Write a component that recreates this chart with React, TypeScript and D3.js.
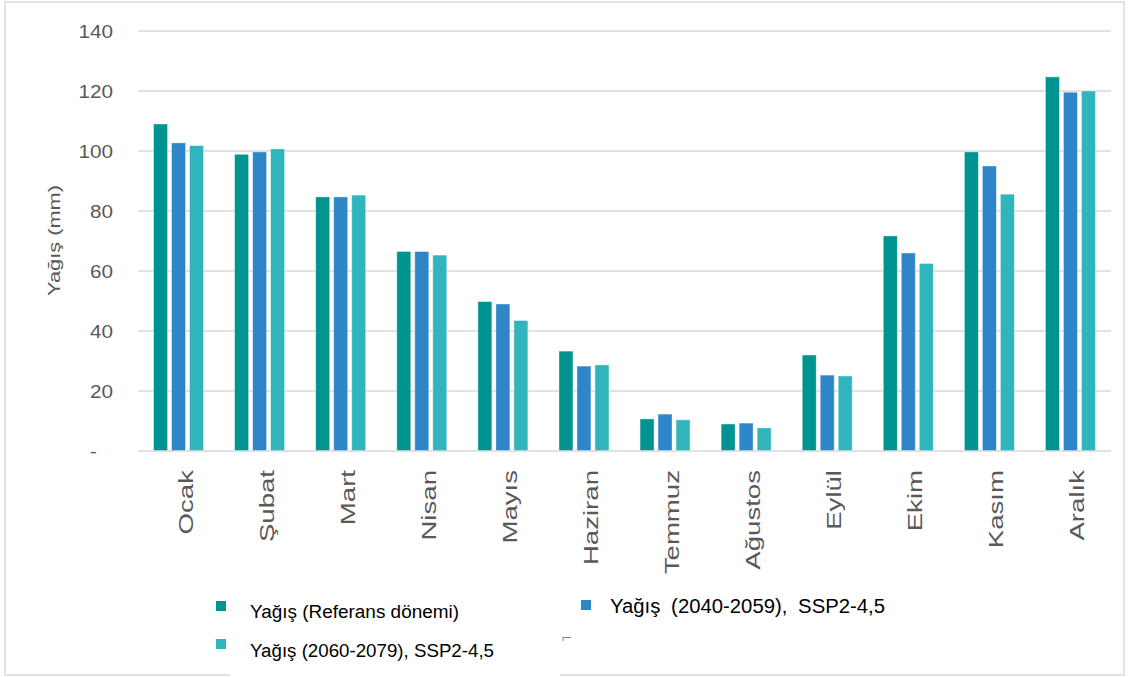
import React from "react";
import * as d3 from "d3";

const months = ["Ocak", "Şubat", "Mart", "Nisan", "Mayıs", "Haziran", "Temmuz", "Ağustos", "Eylül", "Ekim", "Kasım", "Aralık"];
const refValues = [109, 98.9, 84.7, 66.5, 49.8, 33.3, 10.7, 9, 32, 71.7, 99.7, 124.7];
const ssp2040Values = [102.7, 99.7, 84.7, 66.5, 49, 28.3, 12.3, 9.3, 25.3, 66, 95, 119.6];
const ssp2060Values = [101.8, 100.7, 85.3, 65.3, 43.5, 28.7, 10.4, 7.7, 25, 62.5, 85.6, 120];
const yTicks = [0, 20, 40, 60, 80, 100, 120, 140];
const seriesNames = ["Yağış (Referans dönemi)", "Yağış (2040-2059), SSP2-4,5", "Yağış (2060-2079), SSP2-4,5"];
const colors = ["#009490", "#2E86C8", "#31B5BC"];

export default function App() {
  const W = 1128, H = 677;
  const left = 138, right = 1111, top = 31, bottom = 451;
  const x = d3.scaleBand<string>().domain(months).range([left, right]);
  const y = d3.scaleLinear().domain([0, 140]).range([bottom, top]);
  const series = [refValues, ssp2040Values, ssp2060Values];
  const barW = 14, gap = 4;
  const font = "'Liberation Sans', Arial, sans-serif";
  return (
    <svg width={W} height={H} style={{ position: "absolute", left: 0, top: 0, background: "#fff" }} fontFamily={font}>
      <rect x={5} y={2} width={1119} height={673} fill="#fff" stroke="#d9d9d9" strokeWidth={1.5} />
      {yTicks.filter(t => t > 0).map(t => (
        <line key={t} x1={left} x2={right} y1={y(t)} y2={y(t)} stroke="#d9d9d9" strokeWidth={1.5} />
      ))}
      {yTicks.map(t => (
        <text key={"l" + t} transform={`translate(${t === 0 ? 97 : 113},${y(t) + 7}) scale(1.15,1)`} textAnchor="end" fontSize={18} fill="#595959">
          {t === 0 ? "-" : t}
        </text>
      ))}
      <text transform={`translate(60,240.5) rotate(-90)`} textAnchor="middle" fontSize={17} fill="#595959" textLength={111} lengthAdjust="spacingAndGlyphs">Yağış (mm)</text>
      {months.map((m, i) => {
        const c = (x(m) as number) + x.bandwidth() / 2;
        return (
          <g key={m}>
            {series.map((s, k) => {
              const bx = c - barW * 1.5 - gap + k * (barW + gap);
              return (
                <rect key={k} x={bx} y={y(s[i])} width={barW} height={bottom - y(s[i])} fill={colors[k]} stroke="#ffffff" strokeOpacity={0.5} strokeWidth={0.8} />
              );
            })}
            <text transform={`translate(${c + 14},470) rotate(-90) scale(1.38,1)`} textAnchor="end" fontSize={20} fill="#595959">{m}</text>
          </g>
        );
      })}
      <line x1={left} x2={right} y1={bottom} y2={bottom} stroke="#d9d9d9" strokeWidth={1.5} />
      <rect x={230} y={580} width={330} height={97} fill="#fff" />
      <rect x={216} y={601} width={10} height={10} fill={colors[0]} />
      <text x={250} y={618} fontSize={18} fill="#000" textLength={209} lengthAdjust="spacingAndGlyphs">{seriesNames[0]}</text>
      <rect x={216} y={639} width={10} height={10} fill={colors[2]} />
      <text x={250} y={657} fontSize={18} fill="#000" textLength={244} lengthAdjust="spacingAndGlyphs">{seriesNames[2]}</text>
      <rect x={581} y={600} width={10} height={10} fill={colors[1]} />
      <text x={610} y={613} fontSize={20} fill="#000" wordSpacing={5} textLength={275} lengthAdjust="spacingAndGlyphs">{seriesNames[1]}</text>
      <path d="M563,641 V637.5 H571" fill="none" stroke="#7f7f7f" strokeWidth={1} />
    </svg>
  );
}
